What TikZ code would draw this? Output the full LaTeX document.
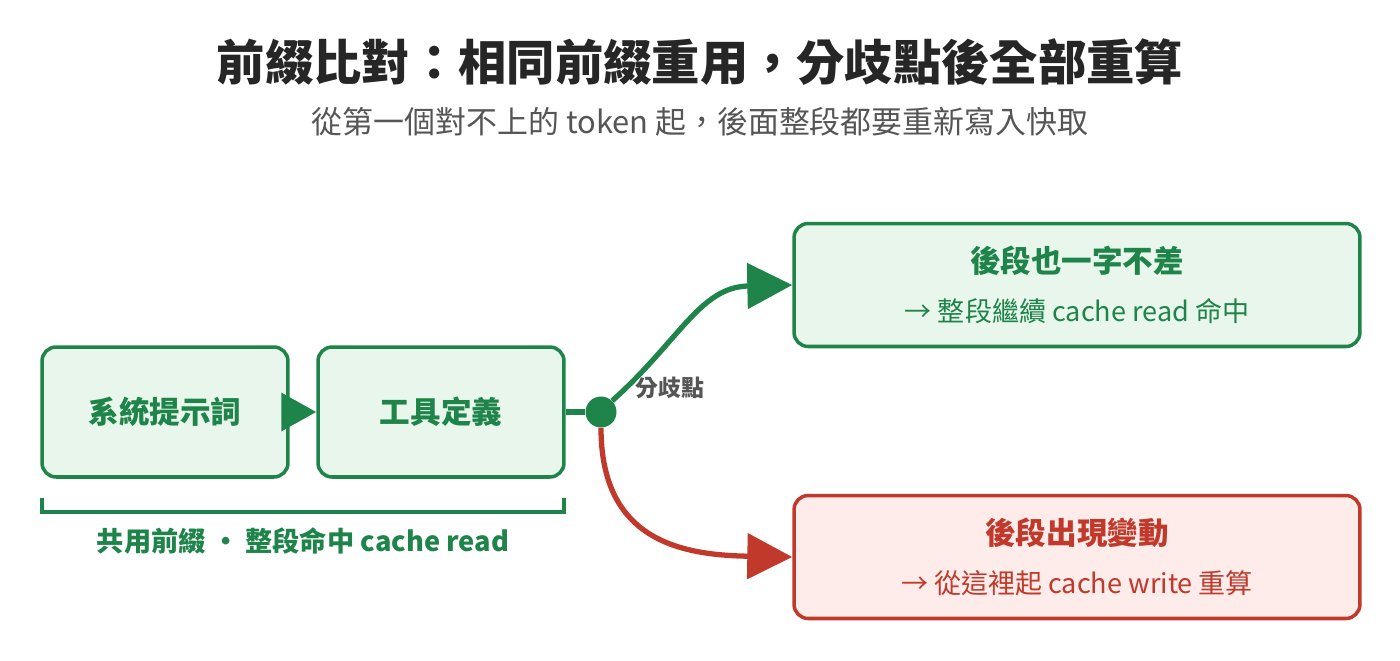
\documentclass[tikz,border=0pt]{standalone}
\usepackage{fontspec}
\setmainfont{Noto Sans CJK TC}
\usetikzlibrary{arrows.meta, positioning}
\definecolor{okgreen}{HTML}{1E8449}
\definecolor{okfill}{HTML}{E8F6EC}
\definecolor{badred}{HTML}{C0392B}
\definecolor{badfill}{HTML}{FDECEA}
\definecolor{subgrey}{HTML}{555555}

\begin{document}
\begin{tikzpicture}[x=0.02cm, y=-0.02cm,
        block/.style={rectangle, rounded corners=8pt, line width=2pt, minimum width=4.92cm, minimum height=2.6cm, font=\fontsize{17.4}{20}\selectfont\bfseries},
        okblock/.style={block, draw=okgreen, fill=okfill, text=okgreen},
        result/.style={rectangle, rounded corners=8pt, line width=2pt, minimum width=11.32cm, minimum height=2.46cm, align=center},
        line/.style={draw, line width=3pt},
        tip/.style={-{Triangle[length=0.9cm, width=0.9cm]}}
    ]
        \useasboundingbox (0,0) rectangle (1400,660);
        % Title
        \node[font=\fontsize{27.5}{32}\selectfont\bfseries, text=black!85] (title) at (700,62) {前綴比對：相同前綴重用，分歧點後全部重算};
        \node[font=\fontsize{17.6}{21}\selectfont, text=subgrey] (subtitle) at (700,122) {從第一個對不上的 token 起，後面整段都要重新寫入快取};
        % Shared prefix
        \node[okblock] (system) at (165,412) {系統提示詞};
        \node[okblock] (tools) at (441,412) {工具定義};
        \path[line, okgreen, -{Triangle[length=0.7cm, width=0.75cm]}] (system.east) -- (tools.west);
        % Branch point
        \node[circle, fill=okgreen, minimum size=0.62cm, inner sep=0pt] (fork) at (601,412) {};
        \node[font=\fontsize{13}{15}\selectfont\bfseries, text=subgrey] (forklabel) at (670,388) {分歧點};
        \path[line, okgreen] (tools.east) -- (fork.west);
        % Outcomes
        \node[result, draw=okgreen, fill=okfill] (same) at (1077,285) {%
            {\color{okgreen}\fontsize{17.4}{20}\selectfont\bfseries 後段也一字不差}\\[12pt]
            {\color{okgreen}\fontsize{15.4}{18}\selectfont → 整段繼續 cache read 命中}};
        \node[result, draw=badred, fill=badfill] (changed) at (1077,557) {%
            {\color{badred}\fontsize{17.4}{20}\selectfont\bfseries 後段出現變動}\\[12pt]
            {\color{badred}\fontsize{15.4}{18}\selectfont → 從這裡起 cache write 重算}};
        \path[line, okgreen, tip] (fork.north east) .. controls (680,340) and (700,287) .. (same.west);
        \path[line, badred, tip] (fork.south) .. controls (601,540) and (680,555) .. (changed.west);
        % Bracket
        \coordinate (bl) at (42,498);
        \coordinate (br) at (564,498);
        \draw[okgreen, line width=2.5pt] (bl) -- ++(0,14) -| (br);
        \node[font=\fontsize{15.5}{18}\selectfont\bfseries, text=okgreen] (prefix) at (303,541) {共用前綴 · 整段命中 cache read};
    \end{tikzpicture}
\end{document}
